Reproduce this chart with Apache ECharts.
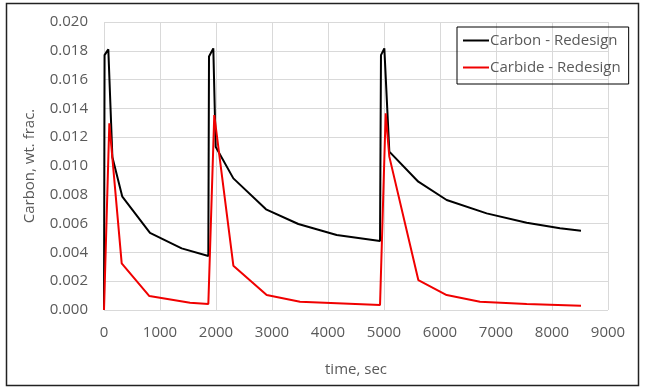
<!DOCTYPE html>
<html><head><meta charset="utf-8">
<script src="https://cdn.jsdelivr.net/npm/echarts@6/dist/echarts.min.js"></script>
<style>html,body{margin:0;padding:0;background:#fff}#c{width:648px;height:389px}</style>
</head><body><div id="c"></div>
<script>
const carbonTime  = [0, 10, 77, 150, 327, 821, 1387, 1863, 1875, 1952, 1994, 2310, 2893, 3470, 4155, 4929, 4946, 5006, 5095, 5613, 6119, 6833, 7548, 8143, 8518];
const carbonValue = [0, 0.0177, 0.0181, 0.0106, 0.00787, 0.00535, 0.00428, 0.00375, 0.0176, 0.01817, 0.01134, 0.00914, 0.00699, 0.00597, 0.00521, 0.00479, 0.0177, 0.01817, 0.0110, 0.00891, 0.00764, 0.00671, 0.00606, 0.00567, 0.00551];
const carbideTime  = [0, 95, 316, 810, 1536, 1863, 1969, 2310, 2905, 3500, 4929, 5030, 5095, 5613, 6119, 6714, 7548, 8518];
const carbideValue = [0, 0.01296, 0.00324, 0.00097, 0.0005, 0.00042, 0.01354, 0.00308, 0.00104, 0.00058, 0.00035, 0.01366, 0.01065, 0.00208, 0.00104, 0.00058, 0.00042, 0.0003];
const seriesNames = ['Carbon - Redesign', 'Carbide - Redesign'];
const xTicks = {min: 0, max: 9000, interval: 1000};
const yTicks = {min: 0, max: 0.020, interval: 0.002};

const zip = (a, b) => a.map((t, i) => [t, b[i]]);
const txt = '#595959';
const font = 'Open Sans';
const chart = echarts.init(document.getElementById('c'), null, {renderer: 'canvas'});
chart.setOption({
  animation: false,
  backgroundColor: '#fff',
  textStyle: {fontFamily: font},
  graphic: [{type: 'rect', shape: {x: 6.5, y: 3.5, width: 632, height: 382}, style: {fill: 'none', stroke: '#222', lineWidth: 1.5}}],
  grid: {left: 104, right: 40, top: 22, bottom: 79},
  legend: {
    orient: 'vertical', left: 457, top: 27,
    padding: [6, 8, 9, 6], itemGap: 12, itemWidth: 26, itemHeight: 2,
    borderColor: '#000', borderWidth: 1,
    textStyle: {color: txt, fontSize: 15, fontFamily: font, padding: [0, 0, 0, -4]},
    data: seriesNames.map(n => ({name: n, icon: 'rect'}))
  },
  xAxis: {
    type: 'value', min: xTicks.min, max: xTicks.max, interval: xTicks.interval,
    name: 'time, sec', nameLocation: 'middle', nameGap: 52,
    nameTextStyle: {color: txt, fontSize: 15, fontFamily: font},
    axisLine: {show: false}, axisTick: {show: false},
    axisLabel: {color: txt, fontSize: 15, margin: 15, fontFamily: font, formatter: v => String(v)},
    splitLine: {show: true, lineStyle: {color: '#d9d9d9', width: 1}}
  },
  yAxis: {
    type: 'value', min: yTicks.min, max: yTicks.max, interval: yTicks.interval,
    name: 'Carbon, wt. frac.', nameLocation: 'middle', nameGap: 67,
    nameTextStyle: {color: txt, fontSize: 15, fontFamily: font},
    axisLine: {show: false}, axisTick: {show: false},
    axisLabel: {color: txt, fontSize: 15, margin: 16, fontFamily: font, formatter: v => v.toFixed(3)},
    splitLine: {show: true, lineStyle: {color: '#d9d9d9', width: 1}}
  },
  series: [
    {name: seriesNames[0], type: 'line', data: zip(carbonTime, carbonValue), showSymbol: false, symbol: 'none',
     lineStyle: {color: '#000', width: 2}, itemStyle: {color: '#000'}},
    {name: seriesNames[1], type: 'line', data: zip(carbideTime, carbideValue), showSymbol: false, symbol: 'none',
     lineStyle: {color: '#f00000', width: 2}, itemStyle: {color: '#f00000'}}
  ]
});
</script></body></html>
